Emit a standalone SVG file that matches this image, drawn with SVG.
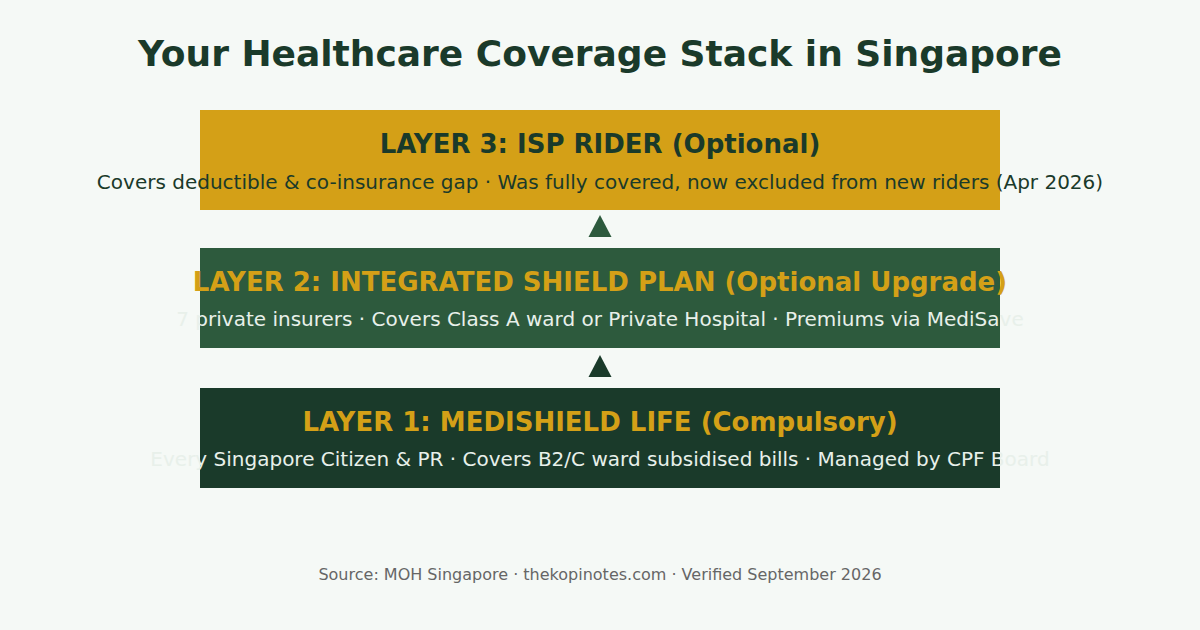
<svg xmlns="http://www.w3.org/2000/svg" width="1200" height="630" viewBox="0 0 1200 630">
<style>
.t{font-family:"DejaVu Sans",sans-serif;text-anchor:middle}
.title{font-size:36px;font-weight:bold;fill:#1a3a2a}
.h{font-size:26px;font-weight:bold}
.s{font-size:20px}
.src{font-size:16px;fill:#666666}
</style>
<rect width="1200" height="630" fill="#f5f9f6"/>
<text class="t title" x="600" y="66">Your Healthcare Coverage Stack in Singapore</text>
<g id="layer3">
<rect x="200" y="110" width="800" height="100" fill="#d4a017"/>
<text class="t h" x="600" y="153" fill="#1a3a2a">LAYER 3: ISP RIDER (Optional)</text>
<text class="t s" x="600" y="189" fill="#1a3a2a">Covers deductible &amp; co-insurance gap · Was fully covered, now excluded from new riders (Apr 2026)</text>
</g>
<g id="layer2">
<rect x="200" y="248" width="800" height="100" fill="#2d5a3d"/>
<text class="t h" x="600" y="291" fill="#d4a017">LAYER 2: INTEGRATED SHIELD PLAN (Optional Upgrade)</text>
<text class="t s" x="600" y="326" fill="#e8f0ea">7 private insurers · Covers Class A ward or Private Hospital · Premiums via MediSave</text>
</g>
<g id="layer1">
<rect x="200" y="388" width="800" height="100" fill="#1a3a2a"/>
<text class="t h" x="600" y="431" fill="#d4a017">LAYER 1: MEDISHIELD LIFE (Compulsory)</text>
<text class="t s" x="600" y="466" fill="#e8f0ea">Every Singapore Citizen &amp; PR · Covers B2/C ward subsidised bills · Managed by CPF Board</text>
</g>
<g id="connectors">
<polygon points="600,215 611.5,237 588.5,237" fill="#2d5a3d"/>
<polygon points="600,355 611.5,377 588.5,377" fill="#1a3a2a"/>
</g>
<text class="t src" x="600" y="580">Source: MOH Singapore · thekopinotes.com · Verified September 2026</text>
</svg>
